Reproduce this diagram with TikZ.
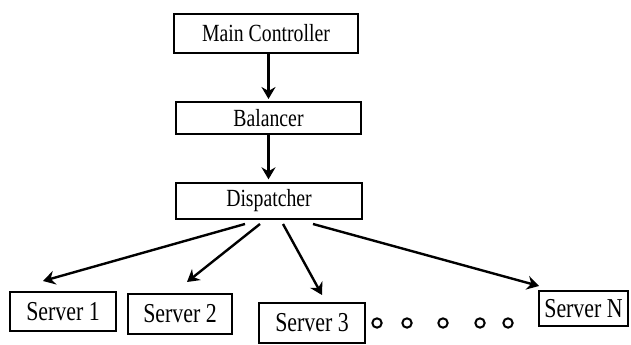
\documentclass[tikz,border=0pt]{standalone}
\usepackage{graphicx}
\usepackage{fontspec}
\setmainfont{Liberation Serif}
\usetikzlibrary{arrows.meta,calc}

\newcommand{\squeeze}[1]{\scalebox{0.8}[1]{#1}}
\tikzset{
  box/.style={draw,line width=1.5pt,inner sep=0pt,font=\fontsize{18.5}{20}\selectfont},
  srvbox/.style={box,font=\fontsize{20.5}{22}\selectfont},
  flow/.style={line width=1.8pt,-{Stealth[length=9pt,width=10.5pt,inset=3pt]}},
  dot/.style={circle,draw,line width=1.5pt,minimum size=7pt,inner sep=0pt}
}

\begin{document}
\begin{tikzpicture}[x=0.75pt,y=0.75pt,yscale=-1,xscale=1]
\useasboundingbox (0,0) rectangle (631,345);
% top chain
\node[box,minimum width=138pt,minimum height=29.25pt] (main) at (266,33.5) {\squeeze{Main Controller}};
\node[box,minimum width=138.75pt,minimum height=24pt] (bal) at (268.5,118) {\squeeze{Balancer}};
\node[box,minimum width=139.5pt,minimum height=27pt] (disp) at (269,201) {\squeeze{Dispatcher}};
% servers
\node[srvbox,minimum width=79.5pt,minimum height=29.25pt] (s1) at (63,311.5) {\squeeze{Server 1}};
\node[srvbox,minimum width=78pt,minimum height=30pt] (s2) at (180,314) {\squeeze{Server 2}};
\node[srvbox,minimum width=79.5pt,minimum height=30pt] (s3) at (312,323) {\squeeze{Server 3}};
\node[srvbox,minimum width=66.75pt,minimum height=26.25pt] (sN) at (583.5,308.5) {\squeeze{Server N}};
\foreach \x [count=\i] in {377,407,443,480,508}
  \node[dot] (dot\i) at (\x,323) {};
% arrows
\draw[flow,shorten >=1.5pt] (bal.north |- main.south) -- (bal.north);
\draw[flow,shorten >=2pt] (bal.south) -- (bal.south |- disp.north);
\draw[flow] ($(disp.south)+(-24,4)$) -- ($(s1.north)+(-20,-10)$);
\draw[flow] ($(disp.south)+(-9,4)$) -- ($(s2.north)+(7,-11)$);
\draw[flow] ($(disp.south)+(14,4)$) -- ($(s3.north)+(10,-7)$);
\draw[flow] ($(disp.south)+(44,4)$) -- ($(sN.north west)+(1,-4)$);
\end{tikzpicture}
\end{document}
